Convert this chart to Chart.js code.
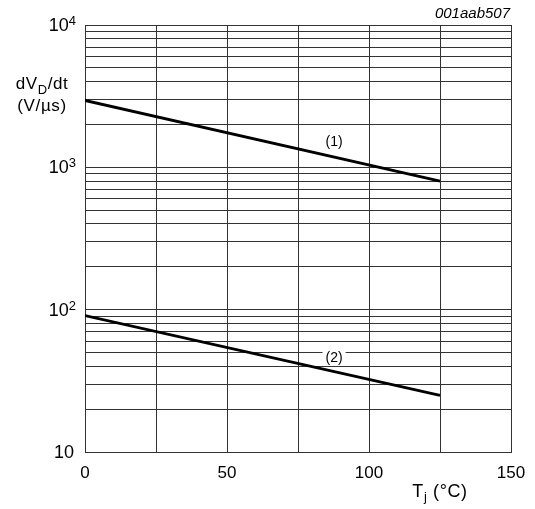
<!DOCTYPE html>
<html>
<head>
<meta charset="utf-8">
<script src="https://cdn.jsdelivr.net/npm/chart.js@4/dist/chart.umd.min.js"></script>
<style>
  body { margin: 0; background: #fff; }
  canvas { display: block; }
</style>
</head>
<body>
<canvas id="myChart" width="535" height="509"></canvas>
<script>
// temperature Tj (°C)
var tempPoints = [0, 125];
// dVD/dt (V/µs) for the two curves
var curve1 = [2950, 800];
var curve2 = [91, 25];
var curveLabels = ['(1)', '(2)'];
var labelPos = [[87.7, 1500], [87.7, 46]];

var xTicks = [0, 25, 50, 75, 100, 125, 150];
var xTickLabels = ['0', '', '50', '', '100', '', '150'];
var yMajor = [10, 100, 1000, 10000];
var yGrid = [10, 20, 30, 40, 50, 60, 70, 80, 90,
             100, 200, 300, 400, 500, 600, 700, 800, 900,
             1000, 2000, 3000, 4000, 5000, 6000, 7000, 8000, 9000, 10000];

var FONT = '"Liberation Sans", Arial, sans-serif';

function toXY(xs, ys) {
  return xs.map(function (x, i) { return { x: x, y: ys[i] }; });
}

// draws the axis text by hand (superscripts, subscripts)
var textPlugin = {
  id: 'texts',
  afterDraw: function (chart) {
    var ctx = chart.ctx;
    var xs = chart.scales.x, ys = chart.scales.y;
    ctx.save();
    ctx.fillStyle = '#000';

    // x tick labels
    ctx.font = '17px ' + FONT;
    ctx.textAlign = 'center';
    ctx.textBaseline = 'middle';
    xTicks.forEach(function (v, i) {
      if (xTickLabels[i]) ctx.fillText(xTickLabels[i], xs.getPixelForValue(v), 473);
    });

    // y tick labels 10, 10^2, 10^3, 10^4
    yMajor.forEach(function (v) {
      var y = ys.getPixelForValue(v);
      var exp = Math.round(Math.log10(v));
      ctx.textBaseline = 'middle';
      if (exp === 1) {
        ctx.font = '18px ' + FONT;
        ctx.textAlign = 'right';
        ctx.fillText('10', 74, y + 1);
      } else {
        ctx.font = '13px ' + FONT;
        ctx.textAlign = 'right';
        ctx.textBaseline = 'alphabetic';
        var sw = ctx.measureText(String(exp)).width;
        ctx.fillText(String(exp), 76, y + 0);
        ctx.font = '18px ' + FONT;
        ctx.textBaseline = 'middle';
        ctx.fillText('10', 76 - sw, y + 1);
      }
    });

    // y axis title: dV_D/dt  (V/µs)
    ctx.letterSpacing = '0.6px';
    var big = '17px ' + FONT, small = '13px ' + FONT;
    ctx.textAlign = 'left';
    ctx.textBaseline = 'alphabetic';
    ctx.font = big;
    var w1 = ctx.measureText('dV').width, w3 = ctx.measureText('/dt').width;
    ctx.font = small;
    var w2 = ctx.measureText('D').width;
    var x0 = 42 - (w1 + w2 + w3) / 2;
    ctx.font = big;
    ctx.fillText('dV', x0, 89);
    ctx.font = small;
    ctx.fillText('D', x0 + w1, 94);
    ctx.font = big;
    ctx.fillText('/dt', x0 + w1 + w2, 89);
    ctx.textAlign = 'center';
    ctx.fillText('(V/µs)', 42, 111);

    // x axis title: T_j (°C)
    var bigX = '18px ' + FONT;
    ctx.textAlign = 'left';
    ctx.font = bigX;
    var t1 = ctx.measureText('T').width, t3 = ctx.measureText(' (°C)').width;
    ctx.font = small;
    var t2 = ctx.measureText('j').width;
    var tx = 440 - (t1 + t2 + t3) / 2;
    ctx.font = bigX;
    ctx.fillText('T', tx, 497);
    ctx.font = small;
    ctx.fillText('j', tx + t1, 501);
    ctx.font = bigX;
    ctx.fillText(' (°C)', tx + t1 + t2, 497);
    ctx.letterSpacing = '0px';

    // curve labels with white backing
    ctx.font = '14px ' + FONT;
    ctx.textAlign = 'center';
    ctx.textBaseline = 'middle';
    curveLabels.forEach(function (lab, i) {
      var px = xs.getPixelForValue(labelPos[i][0]);
      var py = ys.getPixelForValue(labelPos[i][1]);
      var w = ctx.measureText(lab).width;
      ctx.fillStyle = '#fff';
      ctx.fillRect(px - w / 2 - 3, py - 8, w + 6, 16);
      ctx.fillStyle = '#000';
      ctx.fillText(lab, px, py);
    });

    // drawing code
    ctx.font = 'italic 15px ' + FONT;
    ctx.textAlign = 'right';
    ctx.textBaseline = 'alphabetic';
    ctx.fillText('001aab507', 510, 18);
    ctx.restore();
  }
};

var ctx = document.getElementById('myChart').getContext('2d');
var chart = new Chart(ctx, {
  type: 'line',
  data: {
    datasets: [
      { data: toXY(tempPoints, curve1), borderColor: '#000', borderWidth: 2.8, pointRadius: 0, tension: 0 },
      { data: toXY(tempPoints, curve2), borderColor: '#000', borderWidth: 2.8, pointRadius: 0, tension: 0 }
    ]
  },
  options: {
    responsive: false,
    animation: false,
    events: [],
    layout: { padding: { top: 25, right: 24, left: 0, bottom: 0 } },
    plugins: { legend: { display: false }, tooltip: { enabled: false } },
    scales: {
      x: {
        type: 'linear',
        min: 0, max: 150,
        afterBuildTicks: function (s) { s.ticks = xTicks.map(function (v) { return { value: v }; }); },
        afterFit: function (s) { s.height = 57; },
        ticks: { display: false },
        grid: { color: '#333', lineWidth: 1, drawTicks: false },
        border: { color: '#333', width: 1 }
      },
      y: {
        type: 'logarithmic',
        min: 10, max: 10000,
        afterBuildTicks: function (s) { s.ticks = yGrid.map(function (v) { return { value: v }; }); },
        afterFit: function (s) { s.width = 85; },
        ticks: { display: false },
        grid: { color: '#333', lineWidth: 1, drawTicks: false },
        border: { color: '#333', width: 1 }
      }
    }
  },
  plugins: [textPlugin]
});
</script>
</body>
</html>
